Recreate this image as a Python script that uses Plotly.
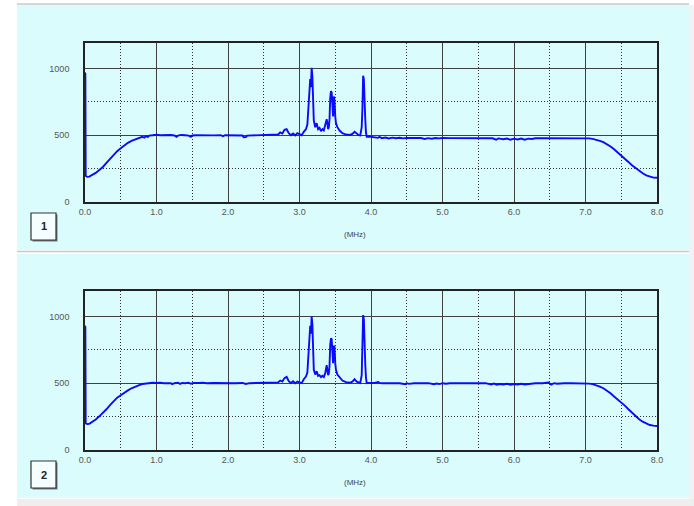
import plotly.graph_objects as go

# ---------------- data ----------------
freq_1 = [0.000, 0.005, 0.010, 0.03, 0.06, 0.10, 0.15, 0.20, 0.25, 0.30, 0.35, 0.40, 0.45, 0.50,
          0.55, 0.60, 0.65, 0.70, 0.75, 0.80, 0.83, 0.85, 0.88, 0.90, 0.95, 1.00, 1.05, 1.10,
          1.15, 1.20, 1.25, 1.28, 1.31, 1.35, 1.40, 1.45, 1.48, 1.50, 1.55, 1.60, 1.70, 1.80,
          1.90, 1.93, 1.96, 2.00, 2.10, 2.20, 2.22, 2.25, 2.27, 2.35, 2.45, 2.55, 2.60, 2.65,
          2.70, 2.73, 2.76, 2.79, 2.82, 2.85, 2.88, 2.91, 2.94, 2.97, 3.00, 3.03, 3.06, 3.09,
          3.11, 3.13, 3.15, 3.16, 3.17, 3.18, 3.19, 3.20, 3.22, 3.24, 3.26, 3.28, 3.30, 3.32,
          3.34, 3.36, 3.38, 3.39, 3.40, 3.41, 3.42, 3.43, 3.44, 3.45, 3.46, 3.47, 3.48, 3.49,
          3.50, 3.51, 3.53, 3.56, 3.60, 3.65, 3.70, 3.74, 3.77, 3.80, 3.83, 3.85, 3.87, 3.88,
          3.89, 3.90, 3.91, 3.92, 3.93, 3.94, 3.97, 4.00, 4.05, 4.10, 4.12, 4.15, 4.20, 4.25,
          4.30, 4.35, 4.40, 4.45, 4.50, 4.60, 4.70, 4.75, 4.80, 4.85, 4.90, 4.95, 5.00, 5.10,
          5.20, 5.25, 5.30, 5.40, 5.50, 5.60, 5.70, 5.75, 5.78, 5.85, 5.90, 5.95, 6.00, 6.05,
          6.10, 6.15, 6.20, 6.25, 6.30, 6.40, 6.50, 6.60, 6.70, 6.80, 6.90, 7.00, 7.05, 7.10,
          7.15, 7.20, 7.25, 7.30, 7.35, 7.40, 7.45, 7.50, 7.55, 7.60, 7.65, 7.70, 7.75, 7.80,
          7.85, 7.90, 7.95, 8.00]
level_1 = [970, 960, 195, 188, 190, 200, 218, 240, 262, 292, 322, 352, 380, 402,
           425, 443, 458, 470, 478, 488, 482, 492, 487, 497, 500, 503, 500, 502,
           500, 501, 498, 488, 499, 502, 500, 497, 488, 498, 500, 499, 500, 499,
           500, 492, 500, 499, 500, 498, 484, 486, 497, 499, 498, 500, 506, 502,
           505, 520, 512, 540, 545, 515, 500, 512, 498, 515, 505, 500, 525, 545,
           580, 720, 920, 860, 1005, 940, 720, 610, 560, 590, 545, 555, 530, 545,
           535, 570, 620, 590, 545, 560, 620, 780, 830, 820, 690, 640, 790, 760,
           640, 590, 560, 535, 515, 505, 502, 510, 525, 510, 500, 498, 560, 700,
           945, 920, 620, 615, 520, 488, 490, 488, 486, 480, 488, 478, 483, 476,
           482, 477, 481, 476, 480, 479, 479, 472, 478, 474, 479, 476, 479, 478,
           478, 474, 478, 478, 477, 477, 477, 466, 476, 470, 475, 466, 474, 468,
           475, 466, 474, 472, 477, 478, 478, 478, 478, 478, 478, 478, 476, 472,
           466, 458, 448, 433, 415, 395, 373, 350, 325, 300, 275, 253, 233, 215,
           200, 188, 182, 181]

freq_2 = [0.000, 0.005, 0.010, 0.03, 0.06, 0.10, 0.15, 0.20, 0.25, 0.30, 0.35, 0.40, 0.45, 0.50,
          0.55, 0.60, 0.65, 0.70, 0.75, 0.80, 0.85, 0.90, 0.95, 1.00, 1.05, 1.10, 1.15, 1.20,
          1.22, 1.25, 1.30, 1.33, 1.36, 1.40, 1.45, 1.48, 1.52, 1.55, 1.60, 1.65, 1.70, 1.80,
          1.90, 2.00, 2.10, 2.20, 2.25, 2.30, 2.35, 2.45, 2.55, 2.60, 2.65, 2.70, 2.73, 2.76,
          2.79, 2.82, 2.85, 2.88, 2.91, 2.94, 2.97, 3.00, 3.03, 3.06, 3.09, 3.11, 3.13, 3.15,
          3.16, 3.17, 3.18, 3.19, 3.20, 3.22, 3.24, 3.26, 3.28, 3.30, 3.32, 3.34, 3.36, 3.38,
          3.39, 3.40, 3.41, 3.42, 3.43, 3.44, 3.45, 3.46, 3.47, 3.48, 3.49, 3.50, 3.51, 3.53,
          3.56, 3.60, 3.65, 3.70, 3.74, 3.77, 3.80, 3.83, 3.85, 3.87, 3.88, 3.89, 3.90, 3.91,
          3.92, 3.93, 3.94, 3.97, 4.00, 4.05, 4.10, 4.12, 4.15, 4.20, 4.30, 4.40, 4.48, 4.50,
          4.53, 4.60, 4.70, 4.80, 4.88, 4.92, 4.96, 5.00, 5.05, 5.10, 5.20, 5.30, 5.40, 5.50,
          5.60, 5.68, 5.72, 5.76, 5.80, 5.85, 5.90, 5.95, 6.00, 6.05, 6.10, 6.15, 6.20, 6.30,
          6.40, 6.48, 6.52, 6.56, 6.60, 6.65, 6.70, 6.80, 6.90, 7.00, 7.05, 7.10, 7.15, 7.20,
          7.25, 7.30, 7.35, 7.40, 7.45, 7.50, 7.55, 7.60, 7.65, 7.70, 7.75, 7.80, 7.85, 7.90,
          7.95, 8.00]
level_2 = [930, 920, 200, 194, 196, 208, 228, 252, 276, 305, 336, 366, 392, 410,
           430, 446, 462, 475, 484, 494, 498, 500, 503, 502, 504, 500, 502, 500,
           493, 500, 504, 495, 502, 500, 504, 496, 502, 500, 501, 504, 500, 502,
           500, 501, 500, 502, 494, 500, 501, 500, 502, 506, 503, 506, 520, 512,
           538, 548, 515, 502, 514, 500, 512, 505, 500, 530, 550, 580, 730, 930,
           870, 1000, 940, 720, 600, 565, 590, 555, 560, 545, 555, 545, 575, 635,
           600, 560, 570, 630, 790, 835, 830, 700, 650, 780, 770, 650, 600, 565,
           545, 520, 508, 503, 512, 530, 512, 505, 502, 560, 720, 1010, 980, 720,
           640, 540, 500, 502, 501, 502, 508, 502, 500, 501, 500, 500, 493, 500,
           495, 500, 500, 500, 492, 497, 493, 500, 496, 500, 500, 500, 499, 500,
           500, 490, 497, 489, 494, 490, 496, 489, 494, 490, 496, 490, 495, 500,
           500, 506, 490, 500, 496, 500, 500, 500, 500, 500, 497, 493, 485, 475,
           462, 445, 425, 400, 378, 358, 332, 305, 278, 253, 230, 212, 198, 187,
           182, 180]

x_ticks = [0, 1, 2, 3, 4, 5, 6, 7, 8]
x_tick_labels = ["0.0", "1.0", "2.0", "3.0", "4.0", "5.0", "6.0", "7.0", "8.0"]
y_ticks = [0, 500, 1000]
y_tick_labels = ["0", "500", "1000"]
panel_labels = ["1", "2"]
x_title = "(MHz)"

# ---------------- layout helpers ----------------
W, H = 694, 506


def px(x):
    return x / W


def py(y):
    return 1 - y / H


CYAN = "#dbfcfc"
LINE_BLUE = "#0a0aff"
TICK_FONT = dict(family="Liberation Sans, Arial, sans-serif", size=9, color="#555555")

fig = go.Figure()
fig.add_trace(go.Scatter(x=freq_1, y=level_1, mode="lines", xaxis="x", yaxis="y",
                         line=dict(color=LINE_BLUE, width=1.9), hoverinfo="skip"))
fig.add_trace(go.Scatter(x=freq_2, y=level_2, mode="lines", xaxis="x2", yaxis="y2",
                         line=dict(color=LINE_BLUE, width=1.9), hoverinfo="skip"))


def xaxis_cfg(anchor):
    return dict(domain=[px(85), px(657)], anchor=anchor, range=[0, 8], automargin=False,
                tickvals=x_ticks, ticktext=x_tick_labels, tickfont=TICK_FONT,
                showgrid=True, gridcolor="#404040", gridwidth=1.4,
                minor=dict(dtick=0.5, showgrid=True, gridcolor="#333333",
                           griddash="1px,2px", gridwidth=1),
                showline=True, linecolor="#222222", linewidth=1.6, mirror=True,
                zeroline=False, ticks="", fixedrange=True)


def yaxis_cfg(anchor, top, bottom):
    return dict(domain=[py(bottom), py(top)], anchor=anchor, range=[0, 1190], automargin=False,
                tickvals=y_ticks, ticktext=y_tick_labels, tickfont=TICK_FONT,
                showgrid=True, gridcolor="#404040", gridwidth=1.4,
                minor=dict(tickvals=[250, 750], showgrid=True, gridcolor="#333333",
                           griddash="1px,2px", gridwidth=1),
                showline=True, linecolor="#222222", linewidth=1.6, mirror=True,
                zeroline=False, ticks="", ticklabelstandoff=12, fixedrange=True)


shapes = [
    # panel backgrounds
    dict(type="rect", xref="paper", yref="paper", x0=px(17), x1=px(689), y0=py(250), y1=py(5),
         fillcolor=CYAN, line=dict(width=0), layer="below"),
    dict(type="rect", xref="paper", yref="paper", x0=px(17), x1=px(689), y0=py(498), y1=py(254),
         fillcolor=CYAN, line=dict(width=0), layer="below"),
    # separator lines
    dict(type="line", xref="paper", yref="paper", x0=px(17), x1=px(689), y0=py(4), y1=py(4),
         line=dict(color="#c8c8c8", width=1.5), layer="below"),
    dict(type="line", xref="paper", yref="paper", x0=px(17), x1=px(689), y0=py(251.5), y1=py(251.5),
         line=dict(color="#c8c8c8", width=1.5), layer="below"),
    dict(type="rect", xref="paper", yref="paper", x0=px(17), x1=px(694), y0=py(506), y1=py(499),
         fillcolor="#eeeeee", line=dict(width=0), layer="below"),
    dict(type="rect", xref="paper", yref="paper", x0=px(689), x1=px(694), y0=py(499), y1=py(5),
         fillcolor="#f2f2f2", line=dict(width=0), layer="below"),
]

annotations = []
for lbl, (top, bottom) in zip(panel_labels, [(213, 240), (461, 488)]):
    # shadow
    shapes.append(dict(type="rect", xref="paper", yref="paper",
                       x0=px(32.5), x1=px(57.5), y0=py(bottom + 1.5), y1=py(top + 1.5),
                       fillcolor="#777777", line=dict(width=0), layer="above"))
    shapes.append(dict(type="rect", xref="paper", yref="paper",
                       x0=px(31), x1=px(56), y0=py(bottom), y1=py(top),
                       fillcolor="#f4fefe", line=dict(color="#333333", width=1.2), layer="above"))
    annotations.append(dict(text="<b>" + lbl + "</b>", xref="paper", yref="paper",
                            x=px(43.5), y=py((top + bottom) / 2), showarrow=False,
                            font=dict(family="Liberation Sans, Arial, sans-serif", size=11,
                                      color="#222222"),
                            xanchor="center", yanchor="middle"))

for yc in [234, 482]:
    annotations.append(dict(text=x_title, xref="paper", yref="paper", x=px(355), y=py(yc),
                            showarrow=False, font=dict(family="Liberation Sans, Arial, sans-serif",
                                                       size=8, color="#444444"),
                            xanchor="center", yanchor="middle"))

fig.update_layout(
    width=W, height=H, margin=dict(l=0, r=0, t=0, b=0, autoexpand=False),
    paper_bgcolor="white", plot_bgcolor="white", showlegend=False,
    xaxis=xaxis_cfg("y"), yaxis=yaxis_cfg("x", 43, 202),
    xaxis2=xaxis_cfg("y2"), yaxis2=yaxis_cfg("x2", 291, 450),
    shapes=shapes, annotations=annotations,
)

fig.write_html("out.html")
